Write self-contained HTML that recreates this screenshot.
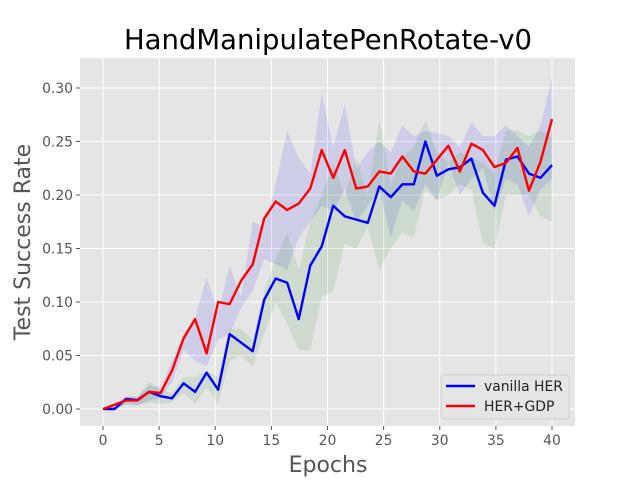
<!DOCTYPE html>
<html><head><meta charset="utf-8"><style>
body{margin:0;background:#fff;}
svg{display:block;font-family:"DejaVu Sans","Liberation Sans",sans-serif;}
</style></head><body>
<svg id="chart" width="640" height="480"></svg>
<script>
const epochIdx=[0,1,2,3,4,5,6,7,8,9,10,11,12,13,14,15,16,17,18,19,20,21,22,23,24,25,26,27,28,29,30,31,32,33,34,35,36,37,38,39];
const vanilla=[0,0,0.0093,0.0084,0.016,0.012,0.010,0.024,0.016,0.034,0.018,0.070,0.062,0.054,0.102,0.122,0.118,0.084,0.134,0.152,0.190,0.180,0.177,0.174,0.208,0.198,0.210,0.210,0.250,0.218,0.224,0.226,0.234,0.202,0.190,0.233,0.236,0.220,0.216,0.228];
const gdp=[0,0.004,0.008,0.008,0.016,0.015,0.036,0.066,0.084,0.052,0.100,0.098,0.120,0.135,0.178,0.194,0.186,0.192,0.206,0.242,0.216,0.242,0.206,0.208,0.222,0.220,0.236,0.222,0.220,0.233,0.246,0.222,0.248,0.242,0.226,0.230,0.244,0.204,0.231,0.271];
const purpleHi=[0,0.004,0.012,0.012,0.022,0.02,0.045,0.07,0.085,0.123,0.09,0.134,0.105,0.175,0.17,0.21,0.26,0.235,0.22,0.295,0.245,0.285,0.225,0.24,0.25,0.24,0.265,0.255,0.26,0.258,0.255,0.245,0.268,0.255,0.255,0.265,0.255,0.245,0.265,0.31];
const purpleLo=[0,0,0.004,0.003,0.008,0.01,0.025,0.055,0.045,0.04,0.065,0.07,0.095,0.11,0.14,0.135,0.13,0.16,0.175,0.19,0.185,0.205,0.175,0.19,0.205,0.16,0.195,0.185,0.21,0.195,0.23,0.2,0.215,0.225,0.185,0.215,0.21,0.18,0.205,0.215];
const greenHi=[0,0.002,0.012,0.01,0.026,0.018,0.015,0.03,0.03,0.035,0.03,0.075,0.075,0.065,0.11,0.14,0.165,0.13,0.175,0.2,0.23,0.2,0.235,0.2,0.27,0.21,0.235,0.245,0.27,0.24,0.23,0.24,0.235,0.23,0.22,0.26,0.26,0.255,0.26,0.255];
const greenLo=[0,0,0.005,0.004,0.006,0.005,0.006,0.015,0.005,0.02,0.005,0.045,0.05,0.04,0.07,0.1,0.08,0.055,0.055,0.105,0.11,0.155,0.15,0.17,0.13,0.15,0.165,0.16,0.205,0.195,0.2,0.21,0.205,0.155,0.15,0.2,0.2,0.2,0.18,0.175];
const xTicks=[0,5,10,15,20,25,30,35,40];
const yTicks=[0,0.05,0.10,0.15,0.20,0.25,0.30];

const NS="http://www.w3.org/2000/svg";
const svg=document.getElementById('chart');
const L=80,R=575,T=58,B=426;
const X=e=>103+(e-0)*(552-103)/40;
const Y=v=>409-v*1070;
const ex=i=>i*40/(epochIdx.length-1);
function mk(tag,attrs,parent){const el=document.createElementNS(NS,tag);for(const k in attrs)el.setAttribute(k,attrs[k]);(parent||svg).appendChild(el);return el;}

let el=mk('rect',{x:L,y:T,width:R-L,height:B-T,fill:'#e5e5e5'});



xTicks.forEach(t=>{
  let g=mk('line',{x1:X(t),x2:X(t),y1:T,y2:B,stroke:'#fff','stroke-width':1});
  
  
  let tk=mk('line',{x1:X(t),x2:X(t),y1:B,y2:B+4,stroke:'#555'});
  
  
  let tx=mk('text',{x:X(t),y:B+19,'text-anchor':'middle','font-size':13.9,fill:'#555'});
  tx.textContent=t;
  
  
});
yTicks.forEach(t=>{
  let g=mk('line',{x1:L,x2:R,y1:Y(t),y2:Y(t),stroke:'#fff','stroke-width':1});
  
  
  let tk=mk('line',{x1:L-4,x2:L,y1:Y(t),y2:Y(t),stroke:'#555'});
  
  
  let tx=mk('text',{x:L-7,y:Y(t)+5,'text-anchor':'end','font-size':13.9,fill:'#555'});
  tx.textContent=t.toFixed(2);
  
  
});

function band(hi,lo,color,op,name){
  let d='M'+hi.map((v,i)=>X(ex(i))+','+Y(v)).join('L')+'L'+lo.map((v,i)=>X(ex(i))+','+Y(v)).reverse().join('L')+'Z';
  let p=mk('path',{d:d,fill:color,'fill-opacity':op,stroke:'none'});
  
  
}
band(purpleHi,purpleLo,'#0000ff',0.1,'gdp-band');
band(greenHi,greenLo,'#008000',0.1,'vanilla-band');
function line(vals,color,name){
  let p=mk('polyline',{points:vals.map((v,i)=>X(ex(i))+','+Y(v)).join(' '),fill:'none',stroke:color,'stroke-width':2.4,'stroke-linejoin':'round'});
  
  
}
line(vanilla,'#0000ff','vanilla-her-line');
line(gdp,'#ff0000','her-gdp-line');
</script>
<svg width="640" height="480" style="position:absolute;left:0;top:0">
<text x="328" y="49" text-anchor="middle" font-size="27.5" fill="#000" font-family="DejaVu Sans, Liberation Sans, sans-serif">HandManipulatePenRotate-v0</text>
<text x="328" y="472" text-anchor="middle" font-size="22" fill="#555" font-family="DejaVu Sans, Liberation Sans, sans-serif">Epochs</text>
<text transform="translate(30,242) rotate(-90)" text-anchor="middle" font-size="22" fill="#555" font-family="DejaVu Sans, Liberation Sans, sans-serif">Test Success Rate</text>
<g>
<rect x="441" y="375" width="128" height="44" rx="3" fill="#e5e5e5" stroke="#d0d0d0"/>
<line x1="446" x2="475" y1="386" y2="386" stroke="#0000ff" stroke-width="2.4"/>
<text x="484" y="391" font-size="13.9" fill="#222" font-family="DejaVu Sans, Liberation Sans, sans-serif">vanilla HER</text>
<line x1="446" x2="475" y1="406" y2="406" stroke="#ff0000" stroke-width="2.4"/>
<text x="484" y="411" font-size="13.9" fill="#222" font-family="DejaVu Sans, Liberation Sans, sans-serif">HER+GDP</text>
</g>
</svg>
</body></html>
